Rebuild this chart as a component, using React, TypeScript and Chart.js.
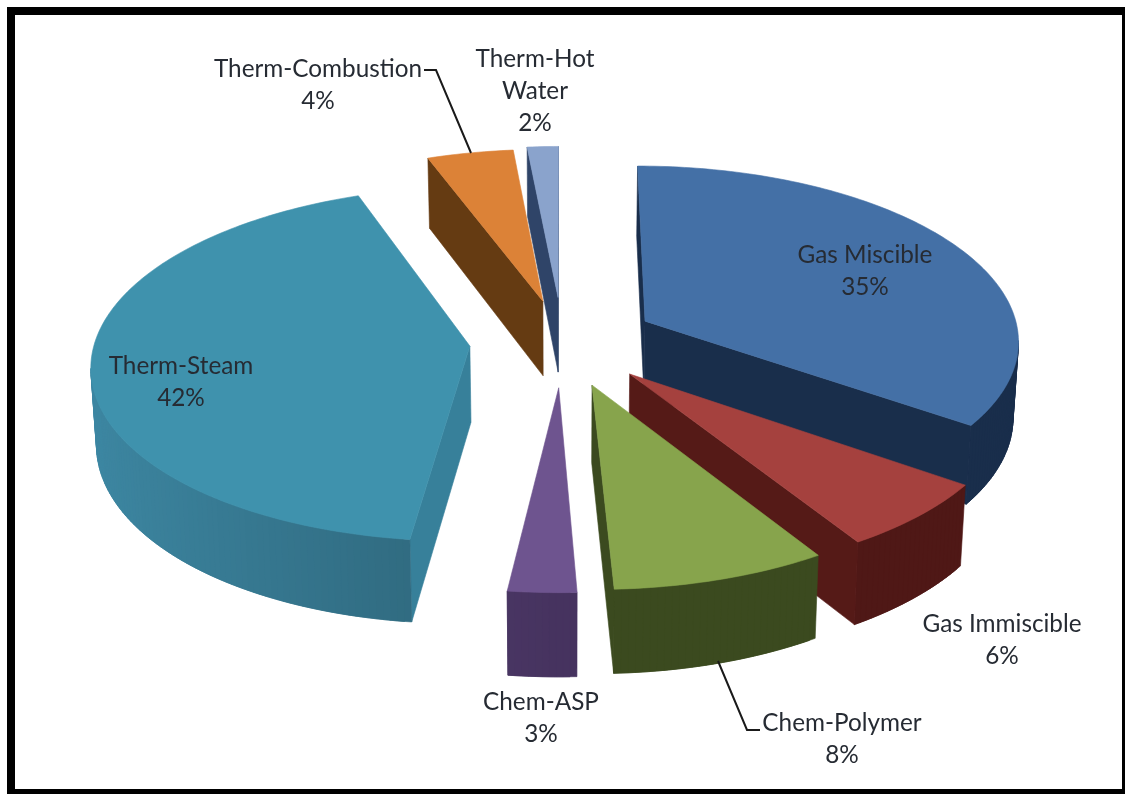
import React, { useEffect, useRef } from "react";
import { Chart, registerables } from "chart.js";

Chart.register(...registerables);

const categories = ["Gas Miscible", "Gas Immiscible", "Chem-Polymer", "Chem-ASP", "Therm-Steam", "Therm-Combustion", "Therm-Hot Water"];
const values = [34.8, 6.3, 8.2, 2.6, 42.45, 4.15, 1.5];
const explode = [94, 96, 97, 98, 93, 90, 96];
const topColors = ["#4470a6", "#a5413e", "#87a44c", "#6e548f", "#3f92ad", "#dc8237", "#8aa3cc"];
const wallColors = ["#192e4b", "#4f1816", "#3b4a1f", "#46335f", "#2f687d", "#653b12", "#2f4468"];
const radialColors = ["#192e4b", "#551a17", "#3b4a1f", "#46335f", "#37809a", "#653b12", "#2f4468"];

const labelLayout = [
  { x: 865, y: 255, lines: ["Gas Miscible"] },
  { x: 1002, y: 624, lines: ["Gas Immiscible"] },
  { x: 842, y: 723, lines: ["Chem-Polymer"] },
  { x: 541, y: 702, lines: ["Chem-ASP"] },
  { x: 181, y: 366, lines: ["Therm-Steam"] },
  { x: 318, y: 69, lines: ["Therm-Combustion"] },
  { x: 535, y: 59, lines: ["Therm-Hot", "Water"] },
];
const leaderLines = [
  [[424, 70], [436, 70], [471, 153]],
  [[718, 661], [747, 730], [760, 730]],
];

const PERSPECTIVE = 0.1;
const SQUASH = 0.465;
const DEPTH = 76;
const CONVERGE = 0.012;

function shade(hex: string, f: number) {
  const n = parseInt(hex.slice(1), 16);
  const c = [(n >> 16) & 255, (n >> 8) & 255, n & 255].map((v) => Math.min(255, Math.round(v * f)));
  return `rgb(${c[0]},${c[1]},${c[2]})`;
}

const pie3d = {
  id: "pie3d",
  beforeDatasetDraw(chart: any) {
    const ctx = chart.ctx;
    const meta = chart.getDatasetMeta(0);
    const slices = meta.data.map((el: any, index: number) => {
      const { x: cx, y: cy, startAngle, endAngle, outerRadius: R } = el.getProps(["x", "y", "startAngle", "endAngle", "outerRadius"], true);
      const mid = (startAngle + endAngle) / 2;
      const off = el.options.offset || 0;
      const ox = Math.cos(mid) * off;
      const oy = Math.sin(mid) * off;
      const project = (px: number, py: number) => {
        const s = 1 / (1 - (PERSPECTIVE * py) / R);
        const x = cx + px * s;
        const y = cy + py * SQUASH * s;
        return {
          x,
          y,
          bx: cx + (x - cx) * (1 - CONVERGE),
          by: y + DEPTH * (1 + (s - 1) * 0.75),
        };
      };
      const steps = Math.max(2, Math.ceil(((endAngle - startAngle) * 180) / Math.PI));
      const pts = [{ ...project(ox, oy), a: null as number | null }];
      for (let i = 0; i <= steps; i++) {
        const a = startAngle + ((endAngle - startAngle) * i) / steps;
        pts.push({ ...project(ox + Math.cos(a) * R, oy + Math.sin(a) * R), a });
      }
      return { index, pts };
    });
    slices.sort((p: any, q: any) => p.pts[0].y - q.pts[0].y);
    ctx.save();
    ctx.lineWidth = 0.6;
    ctx.lineJoin = "round";
    for (const { index, pts } of slices) {
      const n = pts.length;
      for (let i = 0; i < n; i++) {
        const P = pts[i];
        const Q = pts[(i + 1) % n];
        if (Q.x >= P.x) continue;
        const isArc = P.a !== null && Q.a !== null;
        let color = shade(radialColors[index], 1);
        let end = Q;
        if (isArc) {
          const theta = (P.a + Q.a) / 2;
          const side = Math.max(0, -Math.cos(theta));
          color = shade(wallColors[index], 1 + 0.3 * side);
          // Overlap the following facet so that no seam shows between facets.
          if (i + 2 < n && pts[i + 2].x < Q.x) end = pts[i + 2];
        }
        ctx.fillStyle = color;
        ctx.strokeStyle = color;
        ctx.beginPath();
        ctx.moveTo(P.x, P.y);
        ctx.lineTo(end.x, end.y);
        ctx.lineTo(end.bx, end.by);
        ctx.lineTo(P.bx, P.by);
        ctx.closePath();
        ctx.fill();
        ctx.stroke();
      }
      ctx.fillStyle = topColors[index];
      ctx.strokeStyle = topColors[index];
      ctx.beginPath();
      pts.forEach((p: any, i: number) => (i ? ctx.lineTo(p.x, p.y) : ctx.moveTo(p.x, p.y)));
      ctx.closePath();
      ctx.fill();
      ctx.stroke();
    }
    ctx.restore();
    return false;
  },
  afterDraw(chart: any) {
    const ctx = chart.ctx;
    ctx.save();
    ctx.strokeStyle = "#1a1a1a";
    ctx.lineWidth = 2;
    for (const line of leaderLines) {
      ctx.beginPath();
      line.forEach(([x, y], i) => (i ? ctx.lineTo(x, y) : ctx.moveTo(x, y)));
      ctx.stroke();
    }
    ctx.font = "24.3px Lato";
    ctx.fillStyle = "#262b33";
    ctx.textAlign = "center";
    ctx.textBaseline = "middle";
    ctx.filter = "blur(0.4px)";
    labelLayout.forEach((lab, i) => {
      const lines = [...lab.lines, `${Math.round(values[i])}%`];
      lines.forEach((t, j) => ctx.fillText(t, lab.x, lab.y + j * 32));
    });
    ctx.restore();
  },
};

export default function App() {
  const ref = useRef<HTMLCanvasElement>(null);
  useEffect(() => {
    const chart = new Chart(ref.current!, {
      type: "pie",
      data: {
        labels: categories,
        datasets: [{ data: values, backgroundColor: topColors, offset: explode, borderWidth: 0 }],
      },
      options: {
        responsive: false,
        animation: false,
        rotation: 0,
        radius: 375,
        layout: { padding: { bottom: 112 } },
        plugins: { legend: { display: false }, tooltip: { enabled: false } },
      } as any,
      plugins: [pie3d as any],
    });
    return () => chart.destroy();
  }, []);
  return (
    <div style={{ position: "absolute", left: 0, top: 0, width: 1125, height: 794, overflow: "hidden", background: "#fff" }}>
      <div style={{ position: "absolute", left: 7, top: 7, width: 1123, height: 790, boxSizing: "border-box", border: "8px solid #000" }} />
      <canvas ref={ref} width={1125} height={794} style={{ position: "absolute", left: 0, top: 0 }} />
    </div>
  );
}
